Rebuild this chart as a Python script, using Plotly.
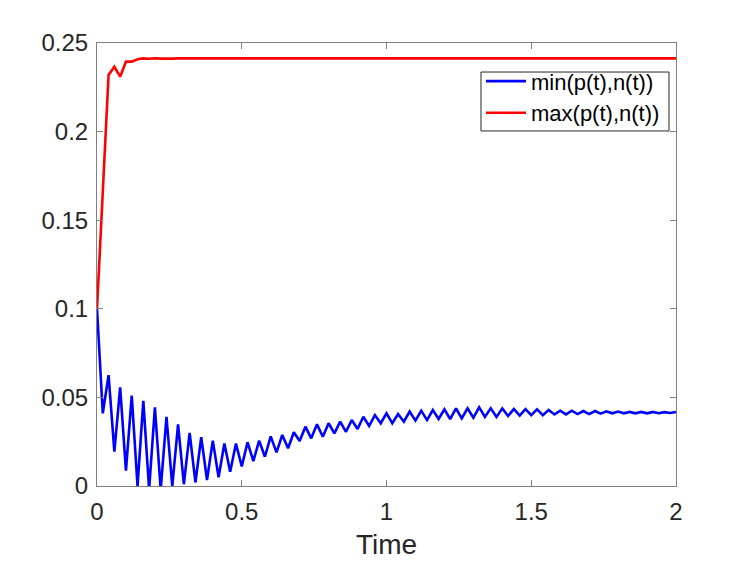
import plotly.graph_objects as go

dt = 0.02
time = [round(i * dt, 2) for i in range(101)]

min_pn = [
    0.1000, 0.0410, 0.0626, 0.0194, 0.0557, 0.0087, 0.0510, 0.0000, 0.0480, -0.0020,
    0.0444, -0.0020, 0.0390, 0.0000, 0.0348, 0.0010, 0.0300, 0.0020, 0.0275, 0.0034,
    0.0256, 0.0049, 0.0240, 0.0080, 0.0240, 0.0110, 0.0247, 0.0140, 0.0256, 0.0165,
    0.0280, 0.0190, 0.0288, 0.0213, 0.0303, 0.0254, 0.0335, 0.0269, 0.0348, 0.0278,
    0.0354, 0.0297, 0.0363, 0.0306, 0.0372, 0.0322, 0.0391, 0.0339, 0.0400, 0.0354,
    0.0410, 0.0354, 0.0406, 0.0363, 0.0420, 0.0369, 0.0425, 0.0372, 0.0429, 0.0378,
    0.0433, 0.0378, 0.0438, 0.0382, 0.0438, 0.0385, 0.0444, 0.0390, 0.0438, 0.0390,
    0.0438, 0.0395, 0.0434, 0.0397, 0.0434, 0.0400, 0.0433, 0.0400, 0.0429, 0.0404,
    0.0425, 0.0404, 0.0425, 0.0406, 0.0423, 0.0406, 0.0423, 0.0408, 0.0421, 0.0410,
    0.0420, 0.0410, 0.0418, 0.0410, 0.0418, 0.0410, 0.0418, 0.0411, 0.0417, 0.0412,
    0.0418,
]

max_pn = [
    0.1000, 0.1660, 0.2320, 0.2366, 0.2310, 0.2395, 0.2395, 0.2408, 0.2413, 0.2411,
    0.2414, 0.2412, 0.2414, 0.2412, 0.2413, 0.2412, 0.2413, 0.2412, 0.2413, 0.2413,
    0.2413, 0.2413, 0.2413, 0.2413, 0.2413, 0.2413, 0.2413, 0.2413, 0.2413, 0.2413,
    0.2413, 0.2413, 0.2413, 0.2413, 0.2413, 0.2413, 0.2413, 0.2413, 0.2413, 0.2413,
    0.2413, 0.2413, 0.2413, 0.2413, 0.2413, 0.2413, 0.2413, 0.2413, 0.2413, 0.2413,
    0.2413, 0.2413, 0.2413, 0.2413, 0.2413, 0.2413, 0.2413, 0.2413, 0.2413, 0.2413,
    0.2413, 0.2413, 0.2413, 0.2413, 0.2413, 0.2413, 0.2413, 0.2413, 0.2413, 0.2413,
    0.2413, 0.2413, 0.2413, 0.2413, 0.2413, 0.2413, 0.2413, 0.2413, 0.2413, 0.2413,
    0.2413, 0.2413, 0.2413, 0.2413, 0.2413, 0.2413, 0.2413, 0.2413, 0.2413, 0.2413,
    0.2413, 0.2413, 0.2413, 0.2413, 0.2413, 0.2413, 0.2413, 0.2413, 0.2413, 0.2413,
    0.2413,
]

x_ticks = [0, 0.5, 1, 1.5, 2]
x_tick_labels = ["0", "0.5", "1", "1.5", "2"]
y_ticks = [0, 0.05, 0.1, 0.15, 0.2, 0.25]
y_tick_labels = ["0", "0.05", "0.1", "0.15", "0.2", "0.25"]

font_family = "Liberation Sans, Arial, Helvetica, sans-serif"
text_color = "#262626"
axis_color = "#808080"

fig = go.Figure()
fig.add_trace(go.Scatter(x=time, y=min_pn, mode="lines", name="min(p(t),n(t))",
                         line=dict(color="#0000FF", width=2.6)))
fig.add_trace(go.Scatter(x=time, y=max_pn, mode="lines", name="max(p(t),n(t))",
                         line=dict(color="#FF0000", width=2.6)))

axis_common = dict(
    showline=True, linecolor=axis_color, linewidth=1, mirror="ticks",
    ticks="inside", ticklen=6, tickcolor=axis_color, tickwidth=1,
    showgrid=False, zeroline=False,
    tickfont=dict(family=font_family, size=24, color=text_color),
)

# legend frame (the built-in legend box is taller than the reference's)
fig.add_shape(type="rect", xref="paper", yref="paper",
              x0=0.6632, x1=0.9879, y0=0.8014, y1=0.9345,
              line=dict(color="#262626", width=1), fillcolor="white", layer="above")

fig.update_layout(
    width=747, height=561,
    margin=dict(l=89, r=79, t=35, b=83),
    paper_bgcolor="white", plot_bgcolor="white",
    font=dict(family=font_family, color=text_color),
    xaxis=dict(range=[0, 2], tickvals=x_ticks, ticktext=x_tick_labels,
               ticklabelstandoff=4,
               title=dict(text="Time", font=dict(family=font_family, size=28, color=text_color),
                          standoff=10),
               **axis_common),
    yaxis=dict(range=[0, 0.25], tickvals=y_ticks, ticktext=y_tick_labels,
               ticklabelstandoff=3, **axis_common),
    legend=dict(x=0.6632, y=0.961, xanchor="left", yanchor="top",
                bgcolor="rgba(0,0,0,0)", borderwidth=0,
                font=dict(family=font_family, size=22, color="black"),
                tracegroupgap=0, itemwidth=40),
    showlegend=True,
)

fig.write_html("out.html")
